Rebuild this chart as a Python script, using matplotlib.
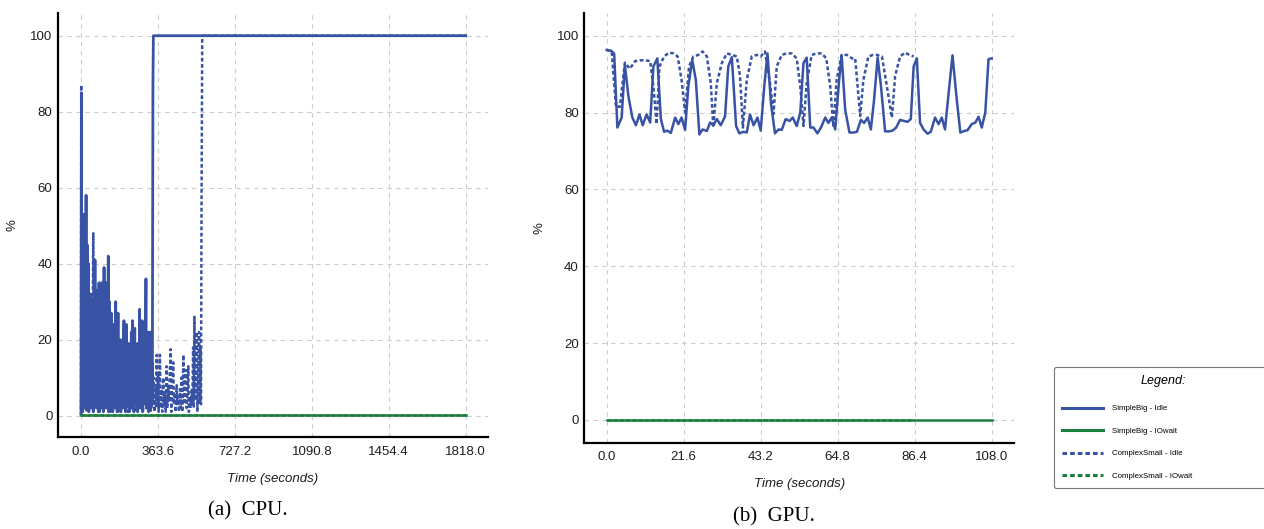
import matplotlib
matplotlib.use("Agg")
import matplotlib.pyplot as plt

plt.rcParams['font.family'] = ['Liberation Sans', 'DejaVu Sans']

BLUE = '#3953a4'
GREEN = '#1b7f3e'
DOT = (0, (1.5, 1.0))

# ---------------- CPU data (seconds, %) ----------------
cpu_big_idle_t = [0, 2, 4, 6, 8, 10, 12, 14, 16, 19, 21, 24, 26, 29, 31, 35, 37, 40, 42, 46,
                  48, 51, 53, 56, 58, 62, 64, 66, 68, 71, 73, 75, 77, 80, 82, 85, 87, 90, 92, 95,
                  97, 99, 101, 104, 106, 109, 111, 114, 116, 118, 120, 123, 125, 129, 131, 134,
                  136, 139, 141, 143, 145, 148, 150, 153, 155, 158, 160, 164, 166, 169, 171, 175,
                  177, 180, 182, 186, 188, 191, 193, 196, 198, 203, 205, 208, 210, 214, 216, 220,
                  222, 226, 228, 232, 234, 238, 240, 243, 245, 248, 250, 254, 256, 260, 262, 266,
                  268, 272, 274, 277, 279, 283, 285, 289, 291, 295, 297, 301, 303, 307, 309, 313,
                  315, 318, 320, 324, 326, 329, 331, 335, 337, 339, 340, 342, 1818]
cpu_big_idle_v = [0.5, 85, 3, 53, 1, 50, 4, 53, 2, 46, 6, 58, 2, 45, 8, 40, 1, 30, 5, 32,
                  2, 26, 4, 30, 1, 22, 6, 41, 3, 28, 2, 33, 7, 24, 1, 35, 3, 30, 5, 21,
                  2, 35, 6, 28, 1, 39, 4, 25, 2, 35, 7, 18, 3, 42, 1, 30,
                  5, 22, 2, 27, 6, 18, 1, 24, 4, 15, 2, 30, 6, 21, 1, 27,
                  3, 14, 5, 20, 1, 10, 4, 18, 2, 25, 6, 15, 1, 24, 3, 12,
                  5, 19, 1, 16, 4, 22, 2, 25, 6, 12, 1, 23, 3, 14, 6, 19,
                  1, 10, 4, 28, 2, 18, 5, 25, 1, 12, 3, 20, 6, 36, 2, 15,
                  4, 22, 1, 10, 6, 22, 2, 14, 3, 66, 87, 100, 100]

cpu_small_idle_t = [0, 1, 3, 6, 9, 13, 17, 22, 26, 31, 35, 40, 44, 49, 53, 58, 62, 67, 71, 76,
                    80, 85, 89, 94, 98, 103, 107, 112, 116, 118, 122, 127, 131, 136, 140, 145,
                    149, 154, 158, 163, 167, 172, 176, 181, 185, 190, 194, 199, 203, 208, 212,
                    217, 221, 226, 230, 235, 239, 244, 248, 253, 257, 262, 266, 271, 275, 280,
                    284, 289, 293, 298, 302, 307, 311, 316, 320, 325, 329, 334, 338, 343, 347,
                    352, 355, 358, 361, 364, 367, 370, 373, 376, 380, 384, 389, 392, 396, 400,
                    405, 408, 412, 416, 420, 424, 427, 431, 436, 439, 443, 447, 452, 455, 459,
                    463, 468, 471, 475, 479, 484, 487, 491, 496, 499, 503, 507, 510, 514, 518,
                    523, 526, 530, 533, 536, 539, 543, 547, 550, 554, 558, 561, 564, 567, 570,
                    573, 1818]
cpu_small_idle_v = [0, 87, 5, 40, 2, 30, 3, 35, 1, 25, 4, 30, 2, 20, 5, 48, 3, 25, 2, 28,
                    6, 20, 1, 26, 4, 18, 2, 22, 6, 35, 2, 20, 5, 15, 1, 18,
                    4, 12, 2, 16, 5, 10, 1, 14, 3, 8, 6, 12, 2, 9, 4,
                    14, 1, 10, 5, 16, 2, 8, 4, 12, 1, 10, 5, 14, 2, 9,
                    4, 12, 1, 8, 5, 11, 2, 9, 4, 12, 1, 8, 4, 10, 1,
                    8, 2, 16, 3, 11, 1, 9, 16, 2, 7, 1, 10, 3, 6, 1,
                    13, 2, 8, 4, 12, 17.5, 1, 9, 14, 3, 6, 1, 8, 3, 5,
                    1, 7, 2, 10, 1, 16, 3, 8, 12, 2, 6, 13, 1, 5, 2,
                    7, 3, 18, 2, 26, 4, 15, 22, 1, 12, 22, 3, 18, 3, 60,
                    100, 100]

cpu_iowait_t = [0, 1818]
cpu_big_iowait_v = [0.2, 0.2]
cpu_small_iowait_v = [0.2, 0.2]

# ---------------- GPU data (seconds, %) ----------------
gpu_big_idle_t = [0, 1.4, 2.1, 3.0, 4.2, 5.1, 6.1, 7.2, 8.2, 9.2, 10.1, 11.2, 12.2, 13.1, 14.2,
                  15.2, 16.1, 17.0, 18.0, 19.2, 20.1, 21.0, 22.0, 22.9, 24.0, 25.0, 26.0, 26.9,
                  28.1, 29.0, 29.9, 30.9, 32.0, 33.2, 34.1, 35.1, 36.3, 37.2, 38.4, 39.3, 40.2,
                  41.2, 42.3, 43.2, 44.2, 45.1, 46.1, 47.2, 48.2, 49.1, 50.2, 51.3, 52.2, 53.3,
                  54.3, 55.2, 56.1, 57.1, 58.0, 59.1, 60.1, 61.3, 62.2, 63.1, 64.1, 65.2, 65.9,
                  66.9, 68.1, 69.2, 70.2, 71.3, 72.2, 73.2, 74.1, 75.0, 76.0, 76.9, 78.1, 79.2,
                  80.2, 81.2, 82.3, 83.4, 84.4, 85.3, 86.1, 87.0, 87.9, 88.9, 90.0, 90.9, 92.1,
                  93.1, 94.0, 94.9, 95.9, 97.0, 98.2, 99.2, 100.3, 101.2, 102.4, 103.4, 104.3,
                  105.2, 106.2, 107.1, 108.0]
gpu_big_idle_v = [96.3, 96.0, 95.3, 76.1, 78.7, 92.4, 84.2, 78.7, 76.7, 79.5, 76.7, 79.5, 77.4,
                  92.0, 94.1, 78.3, 75.0, 75.3, 74.7, 78.7, 77.0, 78.7, 75.5, 86.8, 93.7, 88.5,
                  74.3, 75.6, 75.2, 77.4, 76.7, 78.3, 76.7, 79.0, 92.0, 94.4, 76.5, 74.6, 75.0,
                  74.8, 79.5, 76.7, 78.7, 75.3, 86.8, 95.4, 82.2, 74.6, 75.6, 75.5, 78.3, 77.8,
                  78.7, 76.5, 80.0, 92.9, 94.3, 76.1, 76.1, 74.6, 76.1, 78.7, 77.3, 78.7, 75.6,
                  88.5, 94.9, 80.7, 74.8, 74.8, 75.0, 78.1, 77.3, 78.7, 75.6, 83.3, 94.3, 87.2,
                  75.1, 75.1, 75.3, 76.1, 78.1, 77.8, 77.6, 78.3, 92.0, 94.1, 77.3, 75.6, 74.5,
                  75.0, 78.7, 77.0, 78.7, 75.6, 85.0, 94.9, 83.3, 74.8, 75.2, 75.4, 77.0, 77.4,
                  78.9, 76.1, 80.0, 93.9, 94.1]

gpu_small_idle_t = [0, 1.4, 2.6, 3.7, 5.1, 6.5, 8.0, 9.4, 10.8, 12.2, 13.1, 14.0, 14.8, 16.1,
                    17.5, 18.7, 19.9, 21.0, 22.0, 23.1, 24.3, 25.7, 26.9, 28.1, 29.2, 29.9, 30.9,
                    32.3, 33.7, 35.1, 36.5, 37.4, 38.2, 39.3, 40.7, 42.1, 43.2, 44.4, 45.8, 46.8,
                    47.7, 49.1, 50.5, 51.9, 53.3, 54.3, 55.2, 56.1, 57.5, 58.9, 60.3, 61.6, 62.7,
                    63.6, 64.5, 65.9, 67.4, 68.8, 69.7, 71.1, 72.0, 73.4, 74.7, 75.8, 77.2, 78.6,
                    80.0, 80.9, 82.3, 83.7, 84.9, 86.1]
gpu_small_idle_v = [96.3, 96.0, 81.5, 81.5, 93.0, 91.4, 93.4, 93.6, 93.6, 93.4, 86.8, 77.0, 92.0,
                    94.6, 95.6, 95.4, 94.6, 88.5, 80.0, 92.0, 94.6, 95.0, 95.9, 94.6, 87.7, 76.1,
                    87.7, 92.9, 95.4, 95.0, 94.6, 89.5, 76.1, 88.5, 94.6, 95.0, 94.6, 95.9, 87.7,
                    79.6, 92.0, 95.0, 95.4, 95.4, 94.1, 86.8, 76.5, 87.7, 95.0, 95.4, 95.4, 94.1,
                    86.8, 76.1, 88.5, 95.0, 95.0, 94.1, 94.1, 79.1, 88.5, 94.6, 95.0, 95.0, 94.6,
                    86.8, 78.7, 89.5, 94.6, 95.6, 95.0, 94.6]

gpu_big_iowait_t = [0, 108]
gpu_big_iowait_v = [0.1, 0.1]
gpu_small_iowait_t = [0, 86.1]
gpu_small_iowait_v = [0.1, 0.1]

labels = ['SimpleBig - Idle', 'SimpleBig - IOwait', 'ComplexSmall - Idle', 'ComplexSmall - IOwait']

W, H = 1264, 529
fig = plt.figure(figsize=(W / 100, H / 100), dpi=100)


def style_axes(ax, xticks, ylab_x):
    for s in ['top', 'right']:
        ax.spines[s].set_visible(False)
    for s in ['left', 'bottom']:
        ax.spines[s].set_linewidth(1.6)
        ax.spines[s].set_color('black')
    ax.set_xticks(xticks)
    ax.set_xticklabels(['%.1f' % v for v in xticks])
    ax.set_yticks([0, 20, 40, 60, 80, 100])
    ax.tick_params(axis='both', length=0, labelsize=9.5, colors='#1e1e1e')
    ax.tick_params(axis='x', pad=6)
    ax.tick_params(axis='y', pad=4)
    ax.grid(True, color='#cccccc', linewidth=0.8, linestyle=(0, (4, 4)))
    ax.set_axisbelow(True)
    ax.set_xlabel('Time (seconds)', fontsize=9.5, style='italic', color='#1e1e1e', labelpad=11)
    ax.set_ylabel('%', fontsize=9.5, color='#1e1e1e')
    ax.yaxis.set_label_coords(ylab_x, 0.5)


# CPU
ax1 = fig.add_axes([58 / W, 1 - 437.3 / H, 430 / W, (437.3 - 13.3) / H])
ax1.plot(cpu_big_idle_t, cpu_big_idle_v, color=BLUE, lw=2.0, zorder=3)
ax1.plot(cpu_iowait_t, cpu_big_iowait_v, color=GREEN, lw=1.8, zorder=4)
ax1.plot(cpu_small_idle_t, cpu_small_idle_v, color=BLUE, lw=1.8, ls=DOT, zorder=2)
ax1.plot(cpu_iowait_t, cpu_small_iowait_v, color=GREEN, lw=1.8, ls=DOT, zorder=4)
ax1.set_xlim(-108.7, 1923.6)
ax1.set_ylim(-5.7, 105.9)
style_axes(ax1, [0.0, 363.6, 727.2, 1090.8, 1454.4, 1818.0], (19 - 58) / 430)

# GPU
ax2 = fig.add_axes([584.3 / W, 1 - 442.7 / H, (1014 - 584.3) / W, (442.7 - 13.3) / H])
h1, = ax2.plot(gpu_big_idle_t, gpu_big_idle_v, color=BLUE, lw=1.8, zorder=3)
h2, = ax2.plot(gpu_big_iowait_t, gpu_big_iowait_v, color=GREEN, lw=1.8, zorder=4)
h3, = ax2.plot(gpu_small_idle_t, gpu_small_idle_v, color=BLUE, lw=1.8, ls=DOT, zorder=2)
h4, = ax2.plot(gpu_small_iowait_t, gpu_small_iowait_v, color=GREEN, lw=1.8, ls=DOT, zorder=4)
ax2.set_xlim(-6.28, 114.25)
ax2.set_ylim(-5.91, 105.83)
style_axes(ax2, [0.0, 21.6, 43.2, 64.8, 86.4, 108.0], (545 - 584.3) / 430)

# captions
fig.text(248 / W, 1 - 511 / H, '(a)  CPU.', ha='center', va='center', fontsize=15,
         family='Liberation Serif')
fig.text(774 / W, 1 - 517 / H, '(b)  GPU.', ha='center', va='center', fontsize=15,
         family='Liberation Serif')

# legend (box runs past the right edge, as in the original)
leg = fig.legend([h1, h2, h3, h4], labels, loc='upper left',
                 bbox_to_anchor=(1054 / W, 0, 218 / W, 1 - 367 / H), mode='expand',
                 borderaxespad=0, fontsize=5.7, title='Legend:', title_fontsize=9,
                 handlelength=5.2, handletextpad=1.1, labelspacing=1.9, borderpad=1.0,
                 fancybox=True, framealpha=1, edgecolor='#777777')
leg.get_title().set_style('italic')
leg.get_frame().set_linewidth(0.8)
leg._legend_box.sep += 2
for line in leg.get_lines():
    line.set_linewidth(2.2)

fig.savefig('out.png', dpi=100)
